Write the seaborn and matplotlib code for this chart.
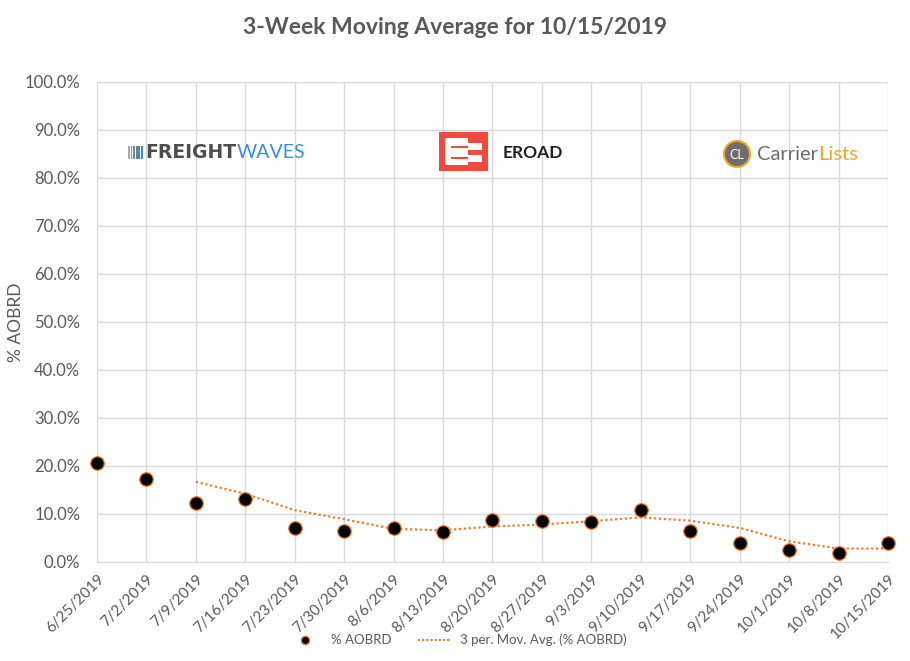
import matplotlib
matplotlib.use("Agg")
import matplotlib.pyplot as plt
from matplotlib.patches import Rectangle, Ellipse
from matplotlib.lines import Line2D
import pandas as pd
import seaborn as sns

# ── Data ──────────────────────────────────────────────────────────────────────
WEEKS = ["6/25/2019", "7/2/2019", "7/9/2019", "7/16/2019", "7/23/2019",
         "7/30/2019", "8/6/2019", "8/13/2019", "8/20/2019", "8/27/2019",
         "9/3/2019", "9/10/2019", "9/17/2019", "9/24/2019", "10/1/2019",
         "10/8/2019", "10/15/2019"]
AOBRD = [20.6, 17.3, 12.3, 13.1, 7.1, 6.5, 7.1, 6.25, 8.75, 8.6,
         8.3, 10.9, 6.5, 4.0, 2.5, 1.9, 4.0]
# 3-period moving average as drawn (starts at the third week)
MOV_AVG = [None, None, 16.7, 14.2, 10.8, 8.9, 6.9, 6.6, 7.4, 7.8,
           8.5, 9.3, 8.6, 7.1, 4.3, 2.8, 2.8]
Y_TICKS = [0, 10, 20, 30, 40, 50, 60, 70, 80, 90, 100]

# ── Style ─────────────────────────────────────────────────────────────────────
TEXT = "#595959"
GRID = "#d9d9d9"
ORANGE = "#ED7D31"

sns.set_style("white")
plt.rcParams["font.family"] = ["Lato", "DejaVu Sans"]

df = pd.DataFrame({"pos": range(len(WEEKS)), "week": WEEKS,
                   "aobrd": AOBRD, "ma": MOV_AVG})

fig = plt.figure(figsize=(9.10, 6.61), dpi=100)
ax = fig.add_axes([0.1066, 0.1498, 0.8692, 0.7262])

sns.lineplot(data=df.dropna(subset=["ma"]), x="pos", y="ma", ax=ax,
             color=ORANGE, linestyle=(0, (1, 1.2)), linewidth=1.6, zorder=2)
sns.scatterplot(data=df, x="pos", y="aobrd", ax=ax, color="black",
                edgecolor=ORANGE, linewidth=0.9, s=95, zorder=3, clip_on=False)

ax.set_xlim(0, len(WEEKS) - 1)
ax.set_ylim(0, 100)
ax.set_xticks(df["pos"])
ax.set_xticklabels(WEEKS, rotation=45, ha="right", rotation_mode="anchor",
                   fontsize=11, color=TEXT)
ax.set_yticks(Y_TICKS)
ax.set_yticklabels([f"{v:.1f}%" for v in Y_TICKS], fontsize=12, color=TEXT)
ax.tick_params(axis="x", length=0, pad=7)
ax.tick_params(axis="y", length=0, pad=12)
ax.grid(True, color=GRID, linewidth=1)
ax.set_axisbelow(True)
for side, sp in ax.spines.items():
    sp.set_visible(side == "bottom")
ax.spines["bottom"].set_color(GRID)
ax.set_xlabel("")
ax.set_ylabel("")

W, H = 910, 661


def fx(px):
    return px / W


def fy(py):
    return 1 - py / H


fig.text(fx(16), fy(322), "% AOBRD", rotation=90, ha="center", va="center",
         fontsize=12.5, color=TEXT)
fig.text(0.5, 0.958, "3-Week Moving Average for 10/15/2019", ha="center",
         va="center", fontsize=16.5, fontweight="bold", color=TEXT)

# legend
handles = [
    Line2D([], [], marker="o", linestyle="", markerfacecolor="black",
           markeredgecolor=ORANGE, markersize=6),
    Line2D([], [], color=ORANGE, linestyle=(0, (1, 1)), linewidth=1.5),
]
fig.legend(handles, ["% AOBRD", "3 per. Mov. Avg. (% AOBRD)"],
           loc="center", bbox_to_anchor=(0.503, 0.032), ncol=2, frameon=False,
           fontsize=9.5, labelcolor=TEXT, handlelength=2.4, columnspacing=2.0)


# ── Sponsor logos (drawn as text + shapes in figure pixels) ──────────────────
def box(x0, y0, w, h, color):
    fig.add_artist(Rectangle((fx(x0), fy(y0 + h)), w / W, h / H,
                             transform=fig.transFigure, color=color, lw=0))


# FreightWaves
shades = ["#a3adb8", "#8a97a6", "#72869b", "#5d82aa", "#4a88c2", "#3a8fd1"]
for i, shade in enumerate(shades):
    box(128 + i * 2.6, 146, 1.8, 13, shade)
fw = fig.text(fx(145), fy(152.5), "FREIGHT", ha="left", va="center",
              fontsize=13.5, fontweight="heavy", color="#4d4d4d",
              family=["DejaVu Sans"])
fig.canvas.draw()
bb = fw.get_window_extent()
fig.text(bb.x1 / W + 0.001, fy(152.5), "WAVES", ha="left", va="center",
         fontsize=14, fontweight="normal", color="#3a8fd1")

# EROAD
RED = "#EE4B3E"
box(439, 132, 49, 39, RED)
box(445, 138, 23, 27, "white")
box(468, 143, 14, 7, "white")
box(468, 155, 14, 7, "white")
box(451, 146, 17, 2, RED)
box(451, 157, 17, 2, RED)
fig.text(fx(503), fy(152.5), "EROAD", ha="left", va="center", fontsize=12.5,
         fontweight="bold", color="#222222")

# CarrierLists
R = 13
fig.add_artist(Ellipse((fx(737), fy(154)), 2 * R / W, 2 * R / H,
                       transform=fig.transFigure, facecolor="#6d6d6d",
                       edgecolor="#F5A623", linewidth=1.5))
fig.text(fx(737), fy(154.5), "CL", ha="center", va="center", fontsize=9,
         color="white")
cl = fig.text(fx(757), fy(154), "Carrier", ha="left", va="center",
              fontsize=14.5, color="#6b6b6b")
fig.canvas.draw()
bb = cl.get_window_extent()
fig.text(bb.x1 / W, fy(154), "Lists", ha="left", va="center", fontsize=14.5,
         color="#F5A623")

fig.savefig("out.png", dpi=100)
